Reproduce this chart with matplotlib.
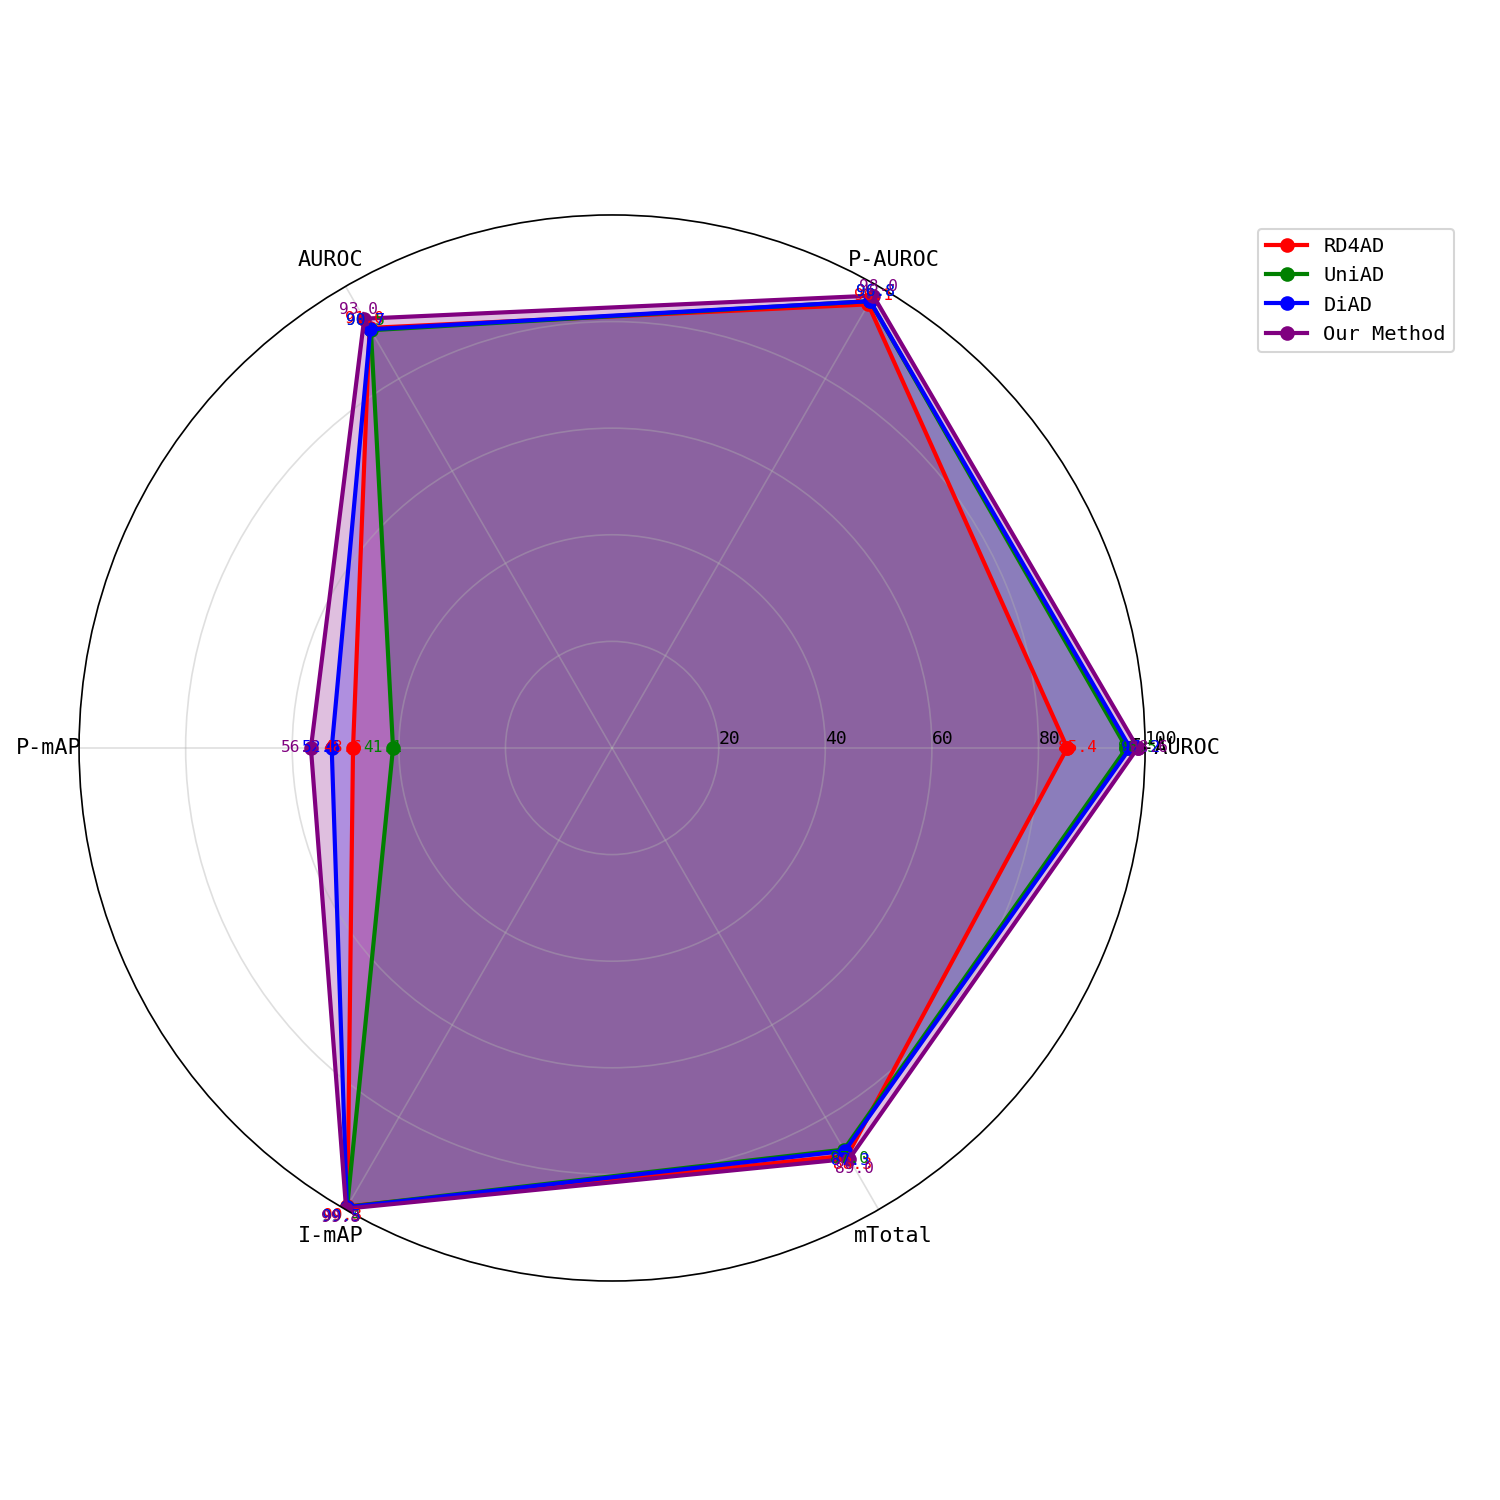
import numpy as np
import matplotlib
matplotlib.use("Agg")
import matplotlib.pyplot as plt

plt.rcParams['font.family'] = ['DejaVu Sans Mono', 'DejaVu Sans']
plt.rcParams['axes.unicode_minus'] = False

categories = ['I-AUROC', 'P-AUROC', 'AUROC', 'P-mAP', 'I-mAP', 'mTotal']
methods = ['RD4AD', 'UniAD', 'DiAD', 'Our Method']
colors = ['red', 'green', 'blue', 'purple']

rd4ad = [85.4, 96.1, 91.0, 48.6, 99.3, 88.3]
uniad = [96.5, 96.8, 90.5, 41.1, 99.4, 87.0]
diad = [97.2, 96.8, 90.7, 52.6, 99.5, 87.3]
ours = [98.6, 98.0, 93.0, 56.5, 99.8, 89.0]
series = [rd4ad, uniad, diad, ours]

rticks = [20, 40, 60, 80, 100]

N = len(categories)
angles = np.linspace(0, 2 * np.pi, N, endpoint=False)
angles_closed = np.concatenate([angles, angles[:1]])

fig = plt.figure(figsize=(10, 10), dpi=150)
ax = fig.add_axes([0.0527, 0.146, 0.7107, 0.7107], polar=True)

for name, vals, c in zip(methods, series, colors):
    v = np.concatenate([vals, vals[:1]])
    ax.plot(angles_closed, v, 'o-', color=c, linewidth=2, markersize=6, label=name)
    ax.fill(angles_closed, v, color=c, alpha=0.25)
    for a, val in zip(angles, vals):
        ax.text(a, val + 2, f'{val:.1f}', color=c, fontsize=7.8, ha='center', va='center')

ax.set_ylim(0, 100)
ax.set_yticks(rticks)
ax.set_yticklabels([str(t) for t in rticks], fontsize=8.7)
ax.set_rlabel_position(0)
ax.set_xticks(angles)
ax.set_xticklabels(categories, fontsize=10.5)
ax.tick_params(axis='x', pad=4)
ax.grid(color='#b0b0b0', alpha=0.4, linewidth=0.8)

fig.legend(loc='upper left', bbox_to_anchor=(1248 / 1500, 1 - 219 / 1500),
           bbox_transform=fig.transFigure, fontsize=9.75)

fig.savefig('out.png', dpi=150)
